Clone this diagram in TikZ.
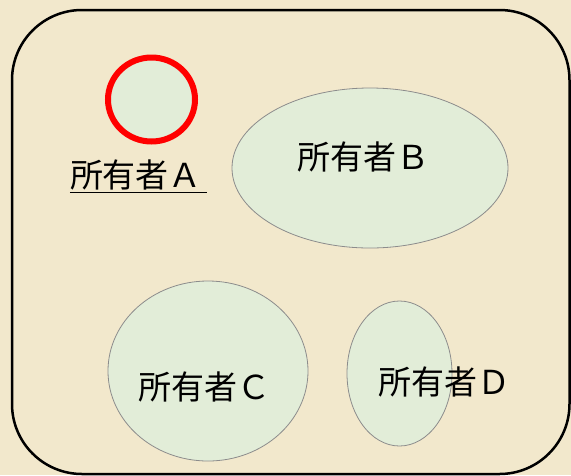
\documentclass[tikz,border=0pt]{standalone}
\usepackage{fontspec}
\newfontfamily\jpfont{Noto Sans CJK JP}
\definecolor{paperbg}{RGB}{242, 232, 204}
\definecolor{ownergreen}{RGB}{226, 237, 216}
\definecolor{ownerline}{RGB}{140, 140, 140}
\definecolor{markred}{RGB}{255, 0, 0}
\usetikzlibrary{shapes.geometric, positioning}
\tikzset{
  owner/.style={ellipse, draw=ownerline, line width=0.8pt, fill=ownergreen, inner sep=0pt},
  ownerlabel/.style={font=\jpfont\fontsize{33}{40}\selectfont, inner sep=0pt}
}

\begin{document}
\begin{tikzpicture}[x=1pt, y=-1pt]
  % Background and frame
  \fill[paperbg] (0, 0) rectangle (571, 475);
  \useasboundingbox (0, 0) rectangle (571, 475);
  \draw[line width=2.5pt, rounded corners=70pt] (12, 10) rectangle (569.5, 474);

  % Owner A (red circle, underlined label)
  \node[owner, draw=markred, line width=6pt, minimum width=87pt, minimum height=84pt] (ownerA) at (151.5, 99.5) {};
  \node[ownerlabel] (labelA) at (136, 175) {所有者Ａ};
  \draw[line width=1.8pt] ([yshift=-5pt]labelA.base west) -- ([yshift=-5pt, xshift=5pt]labelA.base east);

  % Owners B, C, D
  \node[owner, minimum width=276pt, minimum height=160pt] (ownerB) at (370, 168) {};
  \node[ownerlabel] (labelB) at (363, 157) {所有者Ｂ};

  \node[owner, minimum width=200pt, minimum height=180pt] (ownerC) at (208, 371) {};
  \node[ownerlabel] (labelC) at (204, 387) {所有者Ｃ};

  \node[owner, minimum width=105pt, minimum height=145pt] (ownerD) at (399.5, 373.5) {};
  \node[ownerlabel] (labelD) at (444, 382) {所有者Ｄ};
\end{tikzpicture}
\end{document}
